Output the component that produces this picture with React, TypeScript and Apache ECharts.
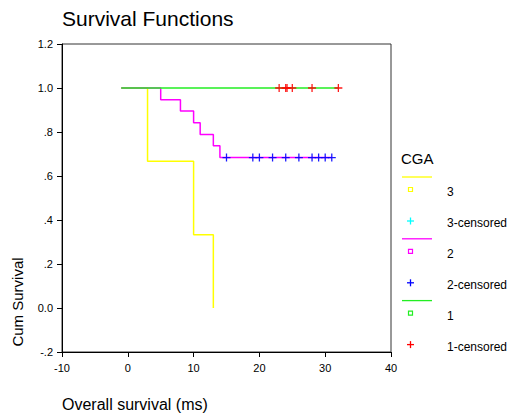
import React, { useEffect, useRef } from "react";
import * as echarts from "echarts";

// ---- data ----
const group3Times = [-1, 3, 10, 13];
const group3Surv = [1, 0.667, 0.333, 0];
const group2Times = [-1, 5, 8, 10, 11, 13, 14, 31];
const group2Surv = [1, 0.947, 0.895, 0.842, 0.789, 0.737, 0.684, 0.684];
const group1Times = [-1, 32];
const group1Surv = [1, 1];
const group2CensoredTimes = [15, 19, 20, 22, 24, 26, 28, 29, 30, 31];
const group2CensoredSurv = 0.684;
const group1CensoredTimes = [23, 24, 24.2, 25, 28, 32];
const group1CensoredSurv = 1;

const legendTitle = "CGA";
const legendLabels = ["3", "3-censored", "2", "2-censored", "1", "1-censored"];
const groupColors = ["#ffff00", "#ff00ff", "#22ee22"];
const censorColors = ["#00ffff", "#0000ff", "#ff0000"];

const FONT = "'Liberation Sans', Arial, sans-serif";
const PLUS = "path://M4.2,0H5.8V4.2H10V5.8H5.8V10H4.2V5.8H0V4.2H4.2Z";

function pairs(xs: number[], ys: number[]) {
  return xs.map((x, i) => [x, ys[i]]);
}

function fmtY(v: number) {
  const r = Math.round(v * 10) / 10;
  if (r === 0) return "0.0";
  if (Math.abs(r) >= 1) return r.toFixed(1);
  return (r < 0 ? "-" : "") + Math.abs(r).toFixed(1).replace(/^0/, "");
}

export default function App() {
  const ref = useRef<HTMLDivElement>(null);
  useEffect(() => {
    if (!ref.current) return;
    const chart = echarts.init(ref.current, undefined, { renderer: "svg" });

    const legendGraphics: any[] = [];
    const lx = 402;
    const baseY = 177;
    const period = 61.8;
    for (let g = 0; g < 3; g++) {
      const y0 = baseY + g * period;
      legendGraphics.push({
        type: "line",
        shape: { x1: lx, y1: y0, x2: lx + 30, y2: y0 },
        style: { stroke: groupColors[g], lineWidth: 1.3 },
      });
      legendGraphics.push({
        type: "rect",
        shape: { x: lx + 6.5, y: y0 + 10.5, width: 4, height: 4 },
        style: { fill: "none", stroke: groupColors[g], lineWidth: 1.2 },
      });
      legendGraphics.push({
        type: "text",
        x: lx + 45,
        y: y0 + 15,
        style: {
          text: legendLabels[g * 2],
          font: `12px ${FONT}`,
          fill: "#000",
          verticalAlign: "middle",
        },
      });
      const py = y0 + 44;
      legendGraphics.push({
        type: "line",
        shape: { x1: lx + 5, y1: py, x2: lx + 12, y2: py },
        style: { stroke: censorColors[g], lineWidth: 1.3 },
      });
      legendGraphics.push({
        type: "line",
        shape: { x1: lx + 8.5, y1: py - 3.5, x2: lx + 8.5, y2: py + 3.5 },
        style: { stroke: censorColors[g], lineWidth: 1.3 },
      });
      legendGraphics.push({
        type: "text",
        x: lx + 45,
        y: py + 2,
        style: {
          text: legendLabels[g * 2 + 1],
          font: `12px ${FONT}`,
          fill: "#000",
          verticalAlign: "middle",
        },
      });
    }

    const stepSeries = (name: string, xs: number[], ys: number[], color: string) => ({
      name,
      type: "line",
      step: "end",
      data: pairs(xs, ys),
      showSymbol: false,
      symbol: "none",
      lineStyle: { color, width: 1.5 },
      z: 2,
    });

    const censorSeries = (name: string, xs: number[], y: number, color: string) => ({
      name,
      type: "scatter",
      data: xs.map((x) => [x, y]),
      symbol: PLUS,
      symbolSize: 8,
      itemStyle: { color, opacity: 0.9 },
      z: 3,
    });

    chart.setOption({
      animation: false,
      backgroundColor: "#fff",
      title: {
        text: "Survival Functions",
        left: 62,
        top: 8,
        padding: 0,
        textStyle: { fontFamily: FONT, fontSize: 21, fontWeight: "normal", color: "#000" },
      },
      grid: {
        left: 62,
        top: 44,
        width: 329,
        height: 308,
        show: true,
        borderColor: "#333",
        borderWidth: 1,
        backgroundColor: "transparent",
      },
      xAxis: {
        type: "value",
        min: -10,
        max: 40,
        interval: 10,
        axisLine: { show: true, onZero: false, lineStyle: { color: "#000", width: 1 } },
        axisTick: { show: true, length: 5, lineStyle: { color: "#000" } },
        axisLabel: { color: "#000", fontFamily: FONT, fontSize: 11, margin: 10 },
        splitLine: { show: false },
      },
      yAxis: {
        type: "value",
        min: -0.2,
        max: 1.2,
        interval: 0.2,
        axisLine: { show: true, onZero: false, lineStyle: { color: "#000", width: 1 } },
        axisTick: { show: true, length: 5, lineStyle: { color: "#000" } },
        axisLabel: { color: "#000", fontFamily: FONT, fontSize: 11, margin: 9, formatter: fmtY },
        splitLine: { show: false },
      },
      graphic: [
        {
          type: "text",
          x: 62,
          y: 404,
          style: {
            text: "Overall survival (ms)",
            font: `16px ${FONT}`,
            fill: "#000",
            verticalAlign: "middle",
          },
        },
        {
          type: "text",
          x: 17,
          y: 302,
          rotation: Math.PI / 2,
          style: {
            text: "Cum Survival",
            font: `15px ${FONT}`,
            fill: "#000",
            align: "center",
            verticalAlign: "middle",
          },
        },
        {
          type: "text",
          x: 401,
          y: 158,
          style: {
            text: legendTitle,
            font: `15px ${FONT}`,
            fill: "#000",
            verticalAlign: "middle",
          },
        },
        ...legendGraphics,
      ],
      series: [
        stepSeries("3", group3Times, group3Surv, groupColors[0]),
        stepSeries("2", group2Times, group2Surv, groupColors[1]),
        stepSeries("1", group1Times, group1Surv, groupColors[2]),
        censorSeries("2-censored", group2CensoredTimes, group2CensoredSurv, censorColors[1]),
        censorSeries("1-censored", group1CensoredTimes, group1CensoredSurv, censorColors[2]),
      ],
    });
    return () => chart.dispose();
  }, []);
  return (
    <div
      ref={ref}
      style={{ position: "absolute", left: 0, top: 0, width: 508, height: 416 }}
    />
  );
}
